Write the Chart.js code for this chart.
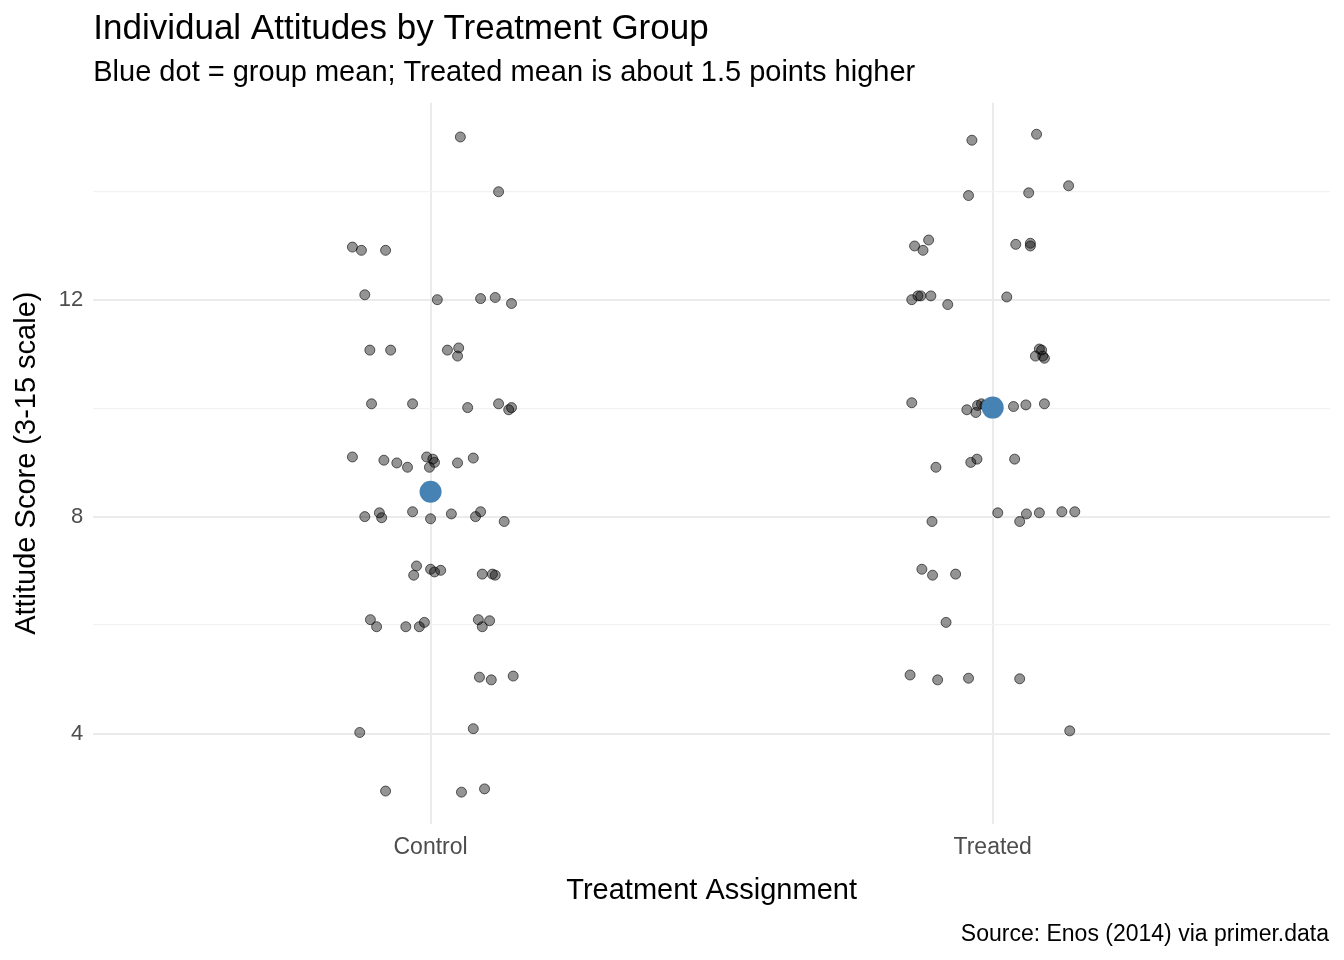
<!DOCTYPE html>
<html>
<head>
<meta charset="utf-8">
<script src="https://cdn.jsdelivr.net/npm/chart.js@4/dist/chart.umd.min.js"></script>
<style>
  html, body { margin: 0; padding: 0; background: #fff; }
  #wrap { width: 1344px; height: 960px; }
</style>
</head>
<body>
<div id="wrap"><canvas id="chart"></canvas></div>
<script>
// groups on the x axis (1 = Control, 2 = Treated)
const groups = ['Control', 'Treated'];
const yTicks = [4, 8, 12];

// individual scores, with their horizontal jitter
const controlJitter = [0.053, 0.121, -0.139, -0.123, -0.080, -0.117, 0.012, 0.089, 0.115, 0.144,
  -0.108, -0.071, 0.030, 0.050, 0.048, -0.105, -0.032, 0.066, 0.121, 0.139, 0.144,
  -0.139, -0.083, -0.060, -0.041, -0.007, 0.004, -0.002, 0.007, 0.048, 0.076,
  -0.117, -0.091, -0.087, -0.032, 0, 0.037, 0.080, 0.089, 0.131,
  -0.025, -0.030, 0, 0.007, 0.018, 0.092, 0.110, 0.115,
  -0.107, -0.096, -0.044, -0.020, -0.011, 0.085, 0.105, 0.092,
  0.087, 0.108, 0.147, -0.126, 0.076, -0.080, 0.055, 0.096];
const controlScores = [15.00, 13.99, 12.97, 12.91, 12.91, 12.09, 12.00, 12.02, 12.04, 11.93,
  11.07, 11.07, 11.07, 11.11, 10.96, 10.08, 10.08, 10.01, 10.08, 9.97, 10.01,
  9.10, 9.04, 8.99, 8.91, 9.10, 9.06, 8.91, 9.00, 8.99, 9.08,
  8.00, 8.07, 7.98, 8.09, 7.96, 8.05, 8.00, 8.09, 7.91,
  7.09, 6.92, 7.03, 6.98, 7.01, 6.94, 6.94, 6.92,
  6.10, 5.97, 5.97, 5.97, 6.05, 6.10, 6.08, 5.97,
  5.04, 4.99, 5.06, 4.02, 4.09, 2.94, 2.92, 2.98];

const treatedJitter = [0.078, -0.037, 0.135, 0.064, -0.043, -0.139, -0.114, -0.124, 0.041, 0.067, 0.067,
  -0.144, -0.133, -0.128, -0.110, -0.080, 0.025, 0.083, 0.076, 0.087, 0.089, 0.092,
  -0.144, -0.046, -0.030, -0.027, -0.020, -0.014, 0.037, 0.059, 0.092,
  -0.101, -0.039, -0.028, 0.039, -0.108, 0.009, 0.048, 0.060, 0.083, 0.123, 0.146,
  -0.126, -0.107, -0.066, -0.083, -0.147, -0.098, -0.043, 0.048, 0.137];
const treatedScores = [15.05, 14.94, 14.10, 13.97, 13.92, 12.99, 13.10, 12.91, 13.02, 13.04, 12.99,
  12.00, 12.07, 12.07, 12.07, 11.91, 12.05, 11.09, 10.96, 11.07, 10.96, 10.92,
  10.10, 9.97, 9.92, 10.05, 10.08, 10.05, 10.03, 10.06, 10.08,
  8.91, 9.00, 9.06, 9.06, 7.91, 8.07, 7.91, 8.05, 8.07, 8.09, 8.09,
  7.03, 6.92, 6.94, 6.05, 5.08, 4.99, 5.02, 5.01, 4.05];

const groupMeans = [8.46, 10.01];

const points = controlScores.map((y, i) => ({ x: 1 + controlJitter[i], y }))
  .concat(treatedScores.map((y, i) => ({ x: 2 + treatedJitter[i], y })));
const means = groupMeans.map((y, i) => ({ x: i + 1, y }));

const font = 'Liberation Sans, Arial, sans-serif';

const caption = {
  id: 'caption',
  afterDraw(chart) {
    const ctx = chart.ctx;
    ctx.save();
    ctx.font = '23px ' + font;
    ctx.fillStyle = '#000';
    ctx.textAlign = 'right';
    ctx.textBaseline = 'alphabetic';
    ctx.fillText('Source: Enos (2014) via primer.data', 1329, 941);
    ctx.restore();
  }
};

new Chart(document.getElementById('chart'), {
  type: 'scatter',
  data: {
    datasets: [
      { data: means, backgroundColor: '#4682b4', borderWidth: 0, pointRadius: 11 },
      { data: points, backgroundColor: 'rgba(0,0,0,0.42)', borderColor: 'rgba(0,0,0,0.6)', borderWidth: 1, pointRadius: 5 }
    ]
  },
  options: {
    responsive: true,
    maintainAspectRatio: false,
    animation: false,
    layout: { padding: { left: 6, right: 14, top: 2, bottom: 48 } },
    plugins: {
      legend: { display: false },
      tooltip: { enabled: false },
      title: {
        display: true, text: 'Individual Attitudes by Treatment Group', align: 'start', fullSize: false,
        color: '#000', font: { family: font, size: 35, weight: 'normal' }, padding: { top: 6, bottom: 6 }
      },
      subtitle: {
        display: true, text: 'Blue dot = group mean; Treated mean is about 1.5 points higher', align: 'start', fullSize: false,
        color: '#000', font: { family: font, size: 29 }, padding: { bottom: 12 }
      }
    },
    scales: {
      x: {
        type: 'linear', min: 0.4, max: 2.6,
        afterBuildTicks: s => { s.ticks = [{ value: 1 }, { value: 2 }]; },
        ticks: { callback: v => groups[v - 1], color: '#4d4d4d', font: { family: font, size: 23 }, padding: 10 },
        grid: { color: '#ebebeb', lineWidth: 2, drawTicks: false },
        border: { display: false },
        title: { display: true, text: 'Treatment Assignment', color: '#000', font: { family: font, size: 29 }, padding: { top: 2 } }
      },
      y: {
        min: 2.34, max: 15.63,
        afterBuildTicks: s => { s.ticks = [4, 6, 8, 10, 12, 14].map(v => ({ value: v })); },
        ticks: { callback: v => yTicks.includes(v) ? String(v) : '', color: '#4d4d4d', font: { family: font, size: 22 }, padding: 10 },
        grid: {
          color: c => yTicks.includes(c.tick && c.tick.value) ? '#ebebeb' : '#f2f2f2',
          lineWidth: c => yTicks.includes(c.tick && c.tick.value) ? 2 : 1.2,
          drawTicks: false
        },
        border: { display: false },
        title: { display: true, text: 'Attitude Score (3-15 scale)', color: '#000', font: { family: font, size: 29 }, padding: { bottom: 4 } }
      }
    }
  },
  plugins: [caption]
});
</script>
</body>
</html>
